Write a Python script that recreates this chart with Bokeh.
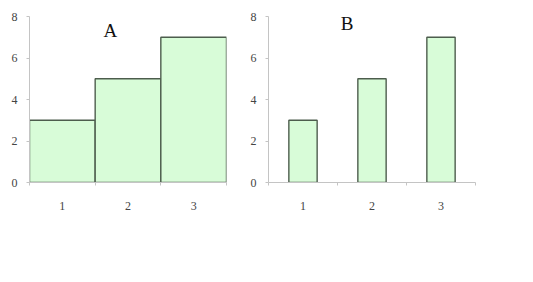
from bokeh.plotting import figure
from bokeh.layouts import row
from bokeh.models import Range1d, FixedTicker, Label
from bokeh.embed import file_html
from bokeh.resources import INLINE
import numpy as np

categories = ["1", "2", "3"]
values = [3, 5, 7]
y_ticks = [0, 2, 4, 6, 8]
titles = ["A", "B"]

FILL = "#d8fcd8"
EDGE = "#4d5d4d"
AXIS = "#c4c4c4"
FONT = "Liberation Serif"


def make(title, bar_width, width, left, right, tx, ty):
    p = figure(width=width, height=282, output_backend="svg", toolbar_location=None,
               x_range=Range1d(0, len(categories)), y_range=Range1d(0, 8),
               min_border_left=left, min_border_right=right,
               min_border_top=16, min_border_bottom=100)
    p.outline_line_color = None
    p.background_fill_color = "white"
    p.border_fill_color = "white"
    p.xgrid.visible = False
    p.ygrid.visible = False
    xs = np.arange(len(categories)) + 0.5
    p.vbar(x=xs, top=values, width=bar_width, bottom=0,
           fill_color=FILL, line_color=EDGE, line_width=1.4)
    xa = p.xaxis[0]
    xa.ticker = FixedTicker(ticks=list(xs), minor_ticks=list(range(len(categories) + 1)))
    xa.major_label_overrides = {float(x): c for x, c in zip(xs, categories)}
    xa.major_tick_line_color = None
    xa.major_tick_out = 0
    xa.major_tick_in = 0
    xa.minor_tick_out = 3
    xa.minor_tick_in = 0
    xa.minor_tick_line_color = AXIS
    xa.axis_line_color = AXIS
    xa.major_label_standoff = 16
    xa.major_label_text_font = FONT
    xa.major_label_text_font_size = "12px"
    xa.major_label_text_color = "#444444"
    ya = p.yaxis[0]
    ya.ticker = FixedTicker(ticks=y_ticks, minor_ticks=[])
    ya.axis_line_color = AXIS
    ya.major_tick_line_color = AXIS
    ya.major_tick_out = 3
    ya.major_tick_in = 0
    ya.minor_tick_line_color = None
    ya.major_label_standoff = 9
    ya.major_label_text_font = FONT
    ya.major_label_text_font_size = "12px"
    ya.major_label_text_color = "#444444"
    p.add_layout(Label(x=tx, y=ty, text=title, text_align="center", text_baseline="middle",
                       text_font=FONT, text_font_size="19px", text_color="#111111"))
    return p


pa = make(titles[0], 1.0, 247, 29, 21, 1.23, 7.33)
pb = make(titles[1], 0.41, 286, 20, 58, 1.14, 7.66)

layout = row(pa, pb, spacing=0)
open("out.html", "w").write(file_html(layout, INLINE))
